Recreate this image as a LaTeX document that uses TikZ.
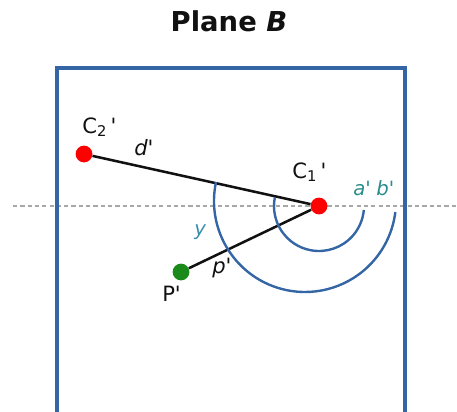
\documentclass[tikz,border=0pt]{standalone}
\usepackage{fontspec}
\setsansfont{DejaVu Sans}
\definecolor{ink}{HTML}{111111}
\definecolor{frame}{HTML}{3465A4}
\definecolor{hit}{HTML}{FF0000}
\definecolor{probe}{HTML}{1A8A1A}
\definecolor{ray}{HTML}{2A8C8C}
\definecolor{yline}{HTML}{3A8FB0}
\definecolor{guide}{HTML}{A8A8A8}

\begin{document}
\begin{tikzpicture}[font=\sffamily, text=ink]
  \useasboundingbox (0,0) rectangle (11.425,-10.3);

  % Horizontal guide through C1', drawn first so everything sits on top.
  \coordinate (axisL) at (0.325,-5.15);
  \coordinate (axisR) at (11.425,-5.15);
  \draw[guide,line width=1.6pt,dash pattern=on 3pt off 2.2pt] (axisL) -- (axisR);

  % The plane itself: open at the bottom, it runs off the page.
  \draw[frame,line width=2.4pt] (1.425,-10.4) -- (1.425,-1.7) -- (10.125,-1.7) -- (10.125,-10.4);
  \node[font=\sffamily\bfseries\fontsize{19.5}{23}\selectfont,anchor=base] (title) at (5.725,-0.79) {Plane \textit{B}};

  % Points on the plane.
  \tikzset{spot/.style={circle,fill=#1,minimum size=0.42cm,inner sep=0pt}}
  \node[spot=hit] (c2) at (2.1,-3.85) {};
  \node[spot=hit] (c1) at (7.975,-5.15) {};
  \node[spot=probe] (p) at (4.525,-6.8) {};
  \draw[ink,line width=1.8pt] (c2) -- (c1);
  \draw[ink,line width=1.8pt] (p) -- (c1);

  % Two arcs: a' round C1', b' slightly off-centre.
  \coordinate (bigc) at (7.625,-5.025);
  \draw[frame,line width=1.7pt] ([shift={(169:1.125)}]c1.center) arc[start angle=169,end angle=355,radius=1.125];
  \draw[frame,line width=1.7pt] ([shift={(168:2.275)}]bigc) arc[start angle=168,end angle=353,radius=2.275];

  % Labels.
  \tikzset{tag/.style={font=\sffamily\fontsize{15}{18}\selectfont,anchor=base west,inner sep=0pt},
           small/.style={font=\sffamily\itshape\fontsize{14}{16}\selectfont,anchor=base west,inner sep=0pt}}
  \node[tag] (c2lbl) at (2.05,-3.325) {C\textsubscript{2}\,\textquotesingle};
  \node[tag] (c1lbl) at (7.3,-4.45) {C\textsubscript{1}\,\textquotesingle};
  \node[tag] (plbl) at (4.05,-7.525) {P\textquotesingle};
  \node[tag,font=\sffamily\itshape\fontsize{15}{18}\selectfont] (dlbl) at (3.35,-3.875) {d\textquotesingle};
  \node[tag,font=\sffamily\itshape\fontsize{15}{18}\selectfont] (plen) at (5.3,-6.825) {p\textquotesingle};
  \node[small,ray] (albl) at (8.825,-4.875) {a\textquotesingle};
  \node[small,ray] (blbl) at (9.4,-4.875) {b\textquotesingle};
  \node[small,yline] (ylbl) at (4.85,-5.875) {y};
\end{tikzpicture}
\end{document}
